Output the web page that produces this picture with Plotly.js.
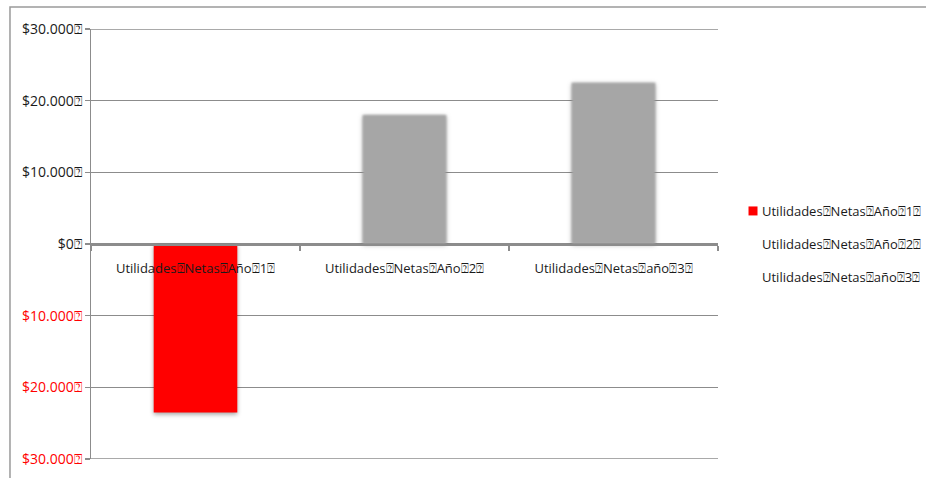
<!DOCTYPE html>
<html>
<head>
<meta charset="utf-8">
<script src="https://cdn.plot.ly/plotly-3.0.1.min.js"></script>
<style>
  html, body { margin: 0; padding: 0; background: #fff; }
  #chart { width: 926px; height: 478px; }
</style>
</head>
<body>
<div id="chart"></div>
<script>
// Net profit per year
const categories = [
  "Utilidades\u2370Netas\u2370Año\u23701\u2370",
  "Utilidades\u2370Netas\u2370Año\u23702\u2370",
  "Utilidades\u2370Netas\u2370año\u23703\u2370"
];
const seriesNames = categories;
const netProfit = [-23500, 18000, 22500];
const barColors = ["#ff0000", "#a6a6a6", "#a6a6a6"];

// Y axis ticks: negatives shown in red without a minus sign
const yTickVals = [30000, 20000, 10000, 0, -10000, -20000, -30000];
const yTickText = [
  "$30.000\u2370", "$20.000\u2370", "$10.000\u2370", "$0\u2370",
  "<span style='color:#ff0000'>$10.000\u2370</span>",
  "<span style='color:#ff0000'>$20.000\u2370</span>",
  "<span style='color:#ff0000'>$30.000\u2370</span>"
];

const font = "'Open Sans', 'DejaVu Sans', sans-serif";
const gridColor = "#8c8c8c";

const traces = categories.map((cat, i) => ({
  type: "bar",
  name: seriesNames[i],
  x: [cat],
  y: [netProfit[i]],
  marker: { color: barColors[i], line: { width: 0 } },
  legendgroup: "g" + i,
  hoverinfo: "skip"
}));

// gridlines at the two ends of the value range (Plotly skips those at the edges)
const yMin = yTickVals[yTickVals.length - 1];
const yMax = yTickVals[0];
const edgeGrid = [yMax, yMin].map(v => ({
  type: "line", xref: "paper", yref: "y",
  x0: 0, x1: 1, y0: v, y1: v,
  line: { color: gridColor, width: 1.3 },
  layer: "below"
}));

const layout = {
  width: 926,
  height: 478,
  margin: { l: 91, r: 208, t: 29, b: 19, autoexpand: false },
  paper_bgcolor: "#ffffff",
  plot_bgcolor: "#ffffff",
  font: { family: font, size: 13, color: "#1a1a1a" },
  barmode: "relative",
  bargap: 0.6,
  showlegend: true,
  legend: {
    x: 1.0064, xanchor: "left",
    y: 0.5, yanchor: "middle",
    traceorder: "grouped",
    tracegroupgap: 13,
    font: { family: font, size: 13, color: "#1a1a1a" },
    bgcolor: "rgba(0,0,0,0)"
  },
  xaxis: {
    type: "category",
    categoryorder: "array",
    categoryarray: categories,
    anchor: "free",
    position: 0.5,
    showline: true,
    linecolor: gridColor,
    linewidth: 1.5,
    ticks: "outside",
    tickson: "boundaries",
    ticklen: 5,
    tickcolor: gridColor,
    tickwidth: 1.5,
    ticklabelstandoff: 12,
    showgrid: false,
    zeroline: false,
    tickfont: { family: font, size: 13, color: "#1a1a1a" },
    fixedrange: true
  },
  yaxis: {
    range: [yMin, yMax],
    tickvals: yTickVals,
    ticktext: yTickText,
    showline: true,
    linecolor: gridColor,
    linewidth: 1.5,
    ticks: "outside",
    ticklen: 5,
    tickcolor: gridColor,
    tickwidth: 1.5,
    showgrid: true,
    gridcolor: gridColor,
    gridwidth: 1.3,
    zeroline: false,
    tickfont: { family: font, size: 14, color: "#1a1a1a" },
    fixedrange: true
  },
  shapes: [{
    type: "path",
    xref: "paper", yref: "paper",
    path: "M 1.4,1.0512 L -0.1292,1.0512 L -0.1292,-0.1",
    line: { color: "#9a9a9a", width: 1.5 },
    layer: "below"
  }].concat(edgeGrid)
};

Plotly.newPlot("chart", traces, layout, { staticPlot: true }).then(() => {
  // soft drop shadow under the bars, slightly blurred edges on the grey ones
  document.querySelectorAll(".barlayer .trace").forEach((g, i) => {
    g.style.filter = i === 0
      ? "drop-shadow(0px 2px 2px rgba(0,0,0,0.35))"
      : "blur(0.9px) drop-shadow(0px 1px 2px rgba(0,0,0,0.3))";
  });
  // key: small swatch next to the text, only for the first series
  document.querySelectorAll(".legend .traces").forEach((item, i) => {
    const pts = item.querySelector(".legendpoints");
    if (!pts) return;
    if (i === 0) {
      pts.querySelectorAll("path").forEach(p => p.setAttribute("d", "M15.5,4.5H6.5V-4.5H15.5Z"));
    } else {
      pts.style.visibility = "hidden";
    }
  });
});
</script>
</body>
</html>
